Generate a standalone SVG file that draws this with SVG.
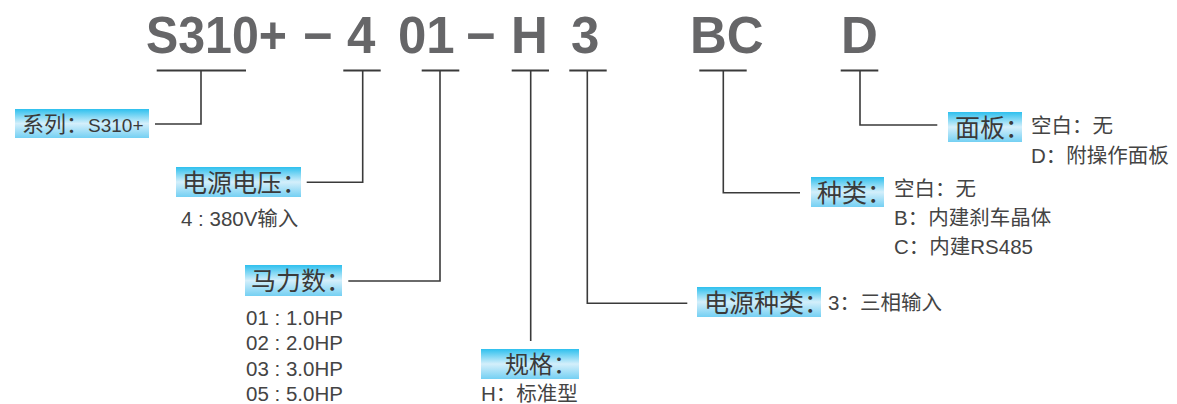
<svg xmlns="http://www.w3.org/2000/svg" width="1177" height="404" viewBox="0 0 1177 404">
<defs>
<linearGradient id="lbl" x1="0" y1="0" x2="0" y2="1">
<stop offset="0" stop-color="#2ec0ee"/>
<stop offset="0.5" stop-color="#d4effb"/>
<stop offset="1" stop-color="#74d0f3"/>
</linearGradient>
<style>
.title{font-family:"Liberation Sans",Arial,sans-serif;font-weight:bold;font-size:51px;fill:#666668}
.box{fill:url(#lbl)}
.lbl{font-family:"Noto Sans CJK SC",sans-serif;font-size:25px;fill:#3a3a3a}
.sub{font-family:"Liberation Sans","Noto Sans CJK SC",sans-serif;font-size:20.5px;fill:#444}
.ul{stroke:#3a3a3a;stroke-width:2;fill:none}
.ln{stroke:#3a3a3a;stroke-width:1.6;fill:none}
</style>
</defs>
<rect width="1177" height="404" fill="#fff"/>
<g id="title">
<text class="title" y="53"><tspan x="146" textLength="141" lengthAdjust="spacingAndGlyphs">S310+</tspan><tspan x="303">−</tspan><tspan x="347">4</tspan><tspan x="398">01</tspan><tspan x="466">−</tspan><tspan x="511">H</tspan><tspan x="571">3</tspan><tspan x="690">BC</tspan><tspan x="841">D</tspan></text>
</g>
<g id="connectors">
<path class="ul" d="M156.7,70.5H246M343.3,70.5H380.7M421.7,70.5H459.3M511.7,70.5H549M569.3,70.5H606.7M699.3,70.5H746.7M840.7,70.5H878.3"/>
<path class="ln" d="M201,71V124H155"/>
<path class="ln" d="M362.7,71V182.3H306.7"/>
<path class="ln" d="M440,71V281H348.3"/>
<path class="ln" d="M530.7,71V341"/>
<path class="ln" d="M587.3,71V303.3H687.3"/>
<path class="ln" d="M723.3,71V192.7H800"/>
<path class="ln" d="M860,71V125H937.3"/>
</g>
<g id="node-series">
<rect class="box" x="15" y="109" width="134" height="29"/>
<text class="lbl" x="22" y="132" style="font-size:22px">系列：<tspan style="font-family:'Liberation Sans',sans-serif;font-size:19px">S310+</tspan></text>
</g>
<g id="node-voltage">
<rect class="box" x="176" y="167" width="125" height="30"/>
<text class="lbl" x="182" y="191.5">电源电压：</text>
<text class="sub" x="181" y="226">4 : 380V输入</text>
</g>
<g id="node-hp">
<rect class="box" x="245" y="265" width="97" height="31"/>
<text class="lbl" x="251" y="290">马力数：</text>
<text class="sub" x="246" y="325">01 : 1.0HP</text>
<text class="sub" x="246" y="350">02 : 2.0HP</text>
<text class="sub" x="246" y="376">03 : 3.0HP</text>
<text class="sub" x="246" y="401">05 : 5.0HP</text>
</g>
<g id="node-spec">
<rect class="box" x="481" y="349" width="98" height="30"/>
<text class="lbl" x="505" y="373" style="font-size:24px">规格：</text>
<text class="sub" x="481" y="401">H：标准型</text>
</g>
<g id="node-powertype">
<rect class="box" x="697" y="287" width="124" height="30"/>
<text class="lbl" x="704" y="311.5">电源种类：</text>
<text class="sub" x="828" y="310">3：三相输入</text>
</g>
<g id="node-type">
<rect class="box" x="811" y="177" width="73" height="30"/>
<text class="lbl" x="817" y="201.5">种类：</text>
<text class="sub" x="894" y="196">空白：无</text>
<text class="sub" x="894" y="225">B：内建刹车晶体</text>
<text class="sub" x="894" y="254">C：内建RS485</text>
</g>
<g id="node-panel">
<rect class="box" x="948" y="112" width="74" height="30"/>
<text class="lbl" x="955" y="136.5">面板：</text>
<text class="sub" x="1031" y="133">空白：无</text>
<text class="sub" x="1031" y="163">D：附操作面板</text>
</g>
</svg>
